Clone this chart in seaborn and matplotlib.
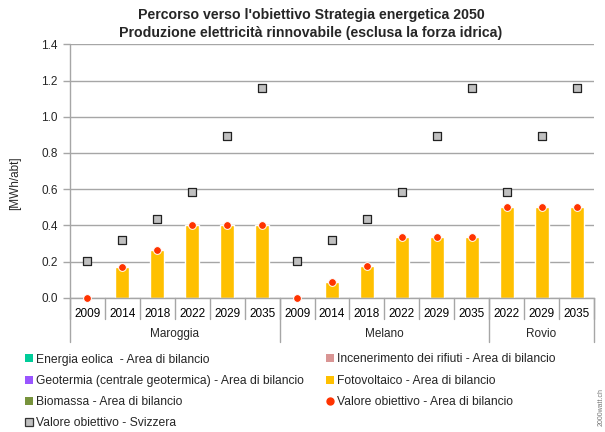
import matplotlib
matplotlib.use("Agg")
import matplotlib.pyplot as plt
from matplotlib.lines import Line2D
import numpy as np
import pandas as pd
import seaborn as sns

# --- data -------------------------------------------------------------
groups = ["Maroggia"] * 6 + ["Melano"] * 6 + ["Rovio"] * 3
years = ["2009", "2014", "2018", "2022", "2029", "2035",
         "2009", "2014", "2018", "2022", "2029", "2035",
         "2022", "2029", "2035"]
fotovoltaico = [0.0, 0.17, 0.265, 0.40, 0.40, 0.40,
                0.0, 0.087, 0.175, 0.333, 0.333, 0.333,
                0.50, 0.50, 0.50]
obiettivo_area = [0.0, 0.17, 0.265, 0.40, 0.40, 0.40,
                  0.0, 0.087, 0.175, 0.333, 0.333, 0.333,
                  0.50, 0.50, 0.50]
obiettivo_svizzera = [0.205, 0.317, 0.435, 0.586, 0.893, 1.157,
                      0.205, 0.317, 0.435, 0.586, 0.893, 1.157,
                      0.586, 0.893, 1.157]
yticks = [0.0, 0.2, 0.4, 0.6, 0.8, 1.0, 1.2, 1.4]

legend_labels = [
    "Energia eolica  - Area di bilancio",
    "Geotermia (centrale geotermica) - Area di bilancio",
    "Biomassa - Area di bilancio",
    "Valore obiettivo - Svizzera",
    "Incenerimento dei rifiuti - Area di bilancio",
    "Fotovoltaico - Area di bilancio",
    "Valore obiettivo - Area di bilancio",
]

cats = [f"{g} {y}" for g, y in zip(groups, years)]
df = pd.DataFrame({
    "cat": cats,
    "gruppo": groups,
    "anno": years,
    "fotovoltaico": fotovoltaico,
    "obiettivo_area": obiettivo_area,
    "obiettivo_svizzera": obiettivo_svizzera,
})

# --- style ------------------------------------------------------------
sns.set_style("white")
plt.rcParams["font.family"] = ["Liberation Sans", "DejaVu Sans"]

C_PV = "#ffc000"
C_RED = "#ff3300"
C_SQ = "#c0c0c0"
C_GRID = "#a6a6a6"
FS = 8.5

W, H = 605, 432
fig = plt.figure(figsize=(W / 100, H / 100), dpi=100)
ax_l, ax_r, ax_t, ax_b = 70, 594, 44.3, 297.7
ax = fig.add_axes([ax_l / W, 1 - ax_b / H, (ax_r - ax_l) / W, (ax_b - ax_t) / H])

sns.barplot(data=df, x="cat", y="fotovoltaico", order=cats, color=C_PV,
            width=0.4, saturation=1, ax=ax, zorder=2)
sns.stripplot(data=df, x="cat", y="obiettivo_svizzera", order=cats, jitter=False,
              marker="s", size=5.2, color=C_SQ, edgecolor="#222222", linewidth=0.9,
              ax=ax, zorder=4, clip_on=False)
sns.stripplot(data=df, x="cat", y="obiettivo_area", order=cats, jitter=False,
              marker="o", size=5.6, color=C_RED, edgecolor="white", linewidth=0.7,
              ax=ax, zorder=5, clip_on=False)

n = len(cats)
ax.set_xlim(-0.5, n - 0.5)
ax.set_ylim(0, 1.4)
ax.set_yticks(yticks)
ax.set_yticklabels([f"{v:.1f}" for v in yticks], fontsize=FS)
ax.set_xticks(range(n))
ax.set_xticklabels(years, fontsize=FS)
ax.set_xlabel("")
ax.set_ylabel("[MWh/abt]", fontsize=FS)
ax.yaxis.set_label_coords(-(ax_l - 21) / (ax_r - ax_l), 0.45)

ax.yaxis.grid(True, color=C_GRID, linewidth=1.0)
ax.set_axisbelow(True)
for s in ("top", "right", "left"):
    ax.spines[s].set_visible(False)
ax.spines["bottom"].set_color(C_GRID)
ax.spines["bottom"].set_linewidth(1.0)
ax.tick_params(axis="x", length=0, pad=7.5, colors="black")
ax.tick_params(axis="y", length=5, width=1.0, color=C_GRID, pad=4, left=True)

# category axis separators
h_ax = ax_b - ax_t
short = -(319 - ax_b) / h_ax
long = -(342 - ax_b) / h_ax
xt = ax.get_xaxis_transform()
for i in range(n + 1):
    ax.plot([i - 0.5, i - 0.5], [0, short], transform=xt, color=C_GRID,
            lw=1.0, clip_on=False)
group_names = list(dict.fromkeys(groups))
bounds = [-0.5]
for g in group_names:
    bounds.append(bounds[-1] + groups.count(g))
for b in bounds:
    ax.plot([b, b], [0, long], transform=xt, color=C_GRID, lw=1.0, clip_on=False)
ax.plot([-0.5, -0.5], [0, 1], transform=xt, color=C_GRID, lw=1.0, clip_on=False)
for g, lo, hi in zip(group_names, bounds[:-1], bounds[1:]):
    ax.text((lo + hi) / 2, -(334 - ax_b) / h_ax, g, transform=xt,
            ha="center", va="center", fontsize=FS)

# title
fig.text(311 / W, 1 - 15 / H, "Percorso verso l'obiettivo Strategia energetica 2050",
         ha="center", va="center", fontsize=10.2, fontweight="bold")
fig.text(311 / W, 1 - 33 / H, "Produzione elettricità rinnovabile (esclusa la forza idrica)",
         ha="center", va="center", fontsize=10.2, fontweight="bold")

# legend
def sq(color, edge=None):
    return Line2D([], [], linestyle="none", marker="s", markersize=5.2,
                  markerfacecolor=color,
                  markeredgecolor=edge if edge else color,
                  markeredgewidth=0.9 if edge else 0)

handles_left = [sq("#00cc99"), sq("#9955ff"), sq("#77933c"), sq(C_SQ, "#333333")]
handles_right = [sq("#d99594"), sq(C_PV),
                 Line2D([], [], linestyle="none", marker="o", markersize=5,
                        markerfacecolor=C_RED, markeredgecolor=C_RED)]
leg_kw = dict(frameon=False, fontsize=8.7, handlelength=0.7, handletextpad=0.25,
              labelspacing=0.77, borderpad=0, borderaxespad=0, loc="upper left")
fig.legend(handles_left, legend_labels[:4], bbox_to_anchor=(25 / W, 1 - 353.5 / H), **leg_kw)
fig.legend(handles_right, legend_labels[4:], bbox_to_anchor=(326 / W, 1 - 353.5 / H), **leg_kw)

fig.text(601 / W, 1 - 407 / H, "2000watt.ch", rotation=90, ha="center",
         va="center", fontsize=5, color="#777777")

fig.savefig("out.png", dpi=100)
